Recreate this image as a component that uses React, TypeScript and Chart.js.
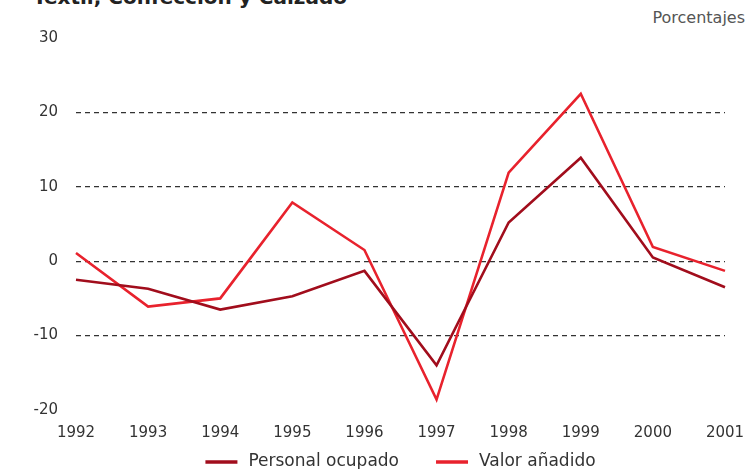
import React, { useEffect, useRef } from "react";
import { Chart, registerables } from "chart.js";

Chart.register(...registerables);

const years = ["1992", "1993", "1994", "1995", "1996", "1997", "1998", "1999", "2000", "2001"];
const personalOcupado = [-2.5, -3.7, -6.5, -4.7, -1.3, -14.0, 5.2, 13.9, 0.5, -3.5];
const valorAnadido = [1.1, -6.1, -5.0, 7.9, 1.5, -18.6, 11.9, 22.5, 1.9, -1.3];
const seriesNames = ["Personal ocupado", "Valor añadido"];
const seriesColors = ["#a10d1c", "#e8222d"];
const titleText = "Textil, Confección y Calzado";
const unitText = "Porcentajes";

const FONT = "'DejaVu Sans', 'Liberation Sans', Arial, sans-serif";

const bottomLegend = {
  id: "bottomLegend",
  afterDraw(chart: any) {
    const ctx = chart.ctx;
    const area = chart.chartArea;
    const sample = 32;
    const gapText = 11;
    const gapItem = 37;
    const y = 462;
    ctx.save();
    ctx.font = `17px ${FONT}`;
    ctx.textBaseline = "middle";
    ctx.textAlign = "left";
    const items = chart.data.datasets.map((d: any) => ({
      label: d.label as string,
      color: d.borderColor as string,
      w: ctx.measureText(d.label).width,
    }));
    let total = 0;
    items.forEach((it: any, i: number) => {
      total += sample + gapText + it.w + (i > 0 ? gapItem : 0);
    });
    let x = (area.left + area.right) / 2 - total / 2;
    items.forEach((it: any) => {
      ctx.strokeStyle = it.color;
      ctx.lineWidth = 3.5;
      ctx.beginPath();
      ctx.moveTo(x, y);
      ctx.lineTo(x + sample, y);
      ctx.stroke();
      ctx.fillStyle = "#333";
      ctx.fillText(it.label, x + sample + gapText, y);
      x += sample + gapText + it.w + gapItem;
    });
    ctx.restore();
  },
};

export default function App() {
  const ref = useRef<HTMLCanvasElement | null>(null);

  useEffect(() => {
    document.body.style.margin = "0";
    const canvas = ref.current;
    if (!canvas) return;
    const chart = new Chart(canvas, {
      type: "line",
      data: {
        labels: years,
        datasets: [
          {
            label: seriesNames[0],
            data: personalOcupado,
            borderColor: seriesColors[0],
            backgroundColor: seriesColors[0],
            borderWidth: 2.6,
            pointRadius: 0,
            tension: 0,
          },
          {
            label: seriesNames[1],
            data: valorAnadido,
            borderColor: seriesColors[1],
            backgroundColor: seriesColors[1],
            borderWidth: 2.6,
            pointRadius: 0,
            tension: 0,
          },
        ],
      },
      options: {
        animation: false,
        responsive: false,
        maintainAspectRatio: false,
        layout: { padding: { left: 0, right: 27, top: 38, bottom: 27 } },
        plugins: {
          tooltip: { enabled: false },
          title: { display: false },
          legend: { display: false },
        },
        scales: {
          x: {
            type: "category",
            offset: false,
            grid: { display: false, drawTicks: false },
            border: { display: false },
            ticks: {
              color: "#333",
              padding: 14,
              maxRotation: 0,
              autoSkip: false,
              font: { family: FONT, size: 15 },
            },
            afterFit: (scale: any) => {
              scale.height = 32;
              scale.paddingLeft = 0;
              scale.paddingRight = 0;
            },
          },
          y: {
            min: -20,
            max: 30,
            border: { display: false, dash: [5, 4] },
            grid: {
              drawTicks: false,
              lineWidth: 1.2,
              color: (ctx: any) =>
                ctx.tick && (ctx.tick.value === 30 || ctx.tick.value === -20)
                  ? "rgba(0,0,0,0)"
                  : "#333",
            },
            ticks: {
              stepSize: 10,
              color: "#333",
              padding: 18,
              font: { family: FONT, size: 15 },
            },
            afterFit: (scale: any) => {
              scale.width = 76;
              scale.paddingTop = 0;
              scale.paddingBottom = 0;
            },
          },
        },
      },
      plugins: [bottomLegend],
    });
    return () => chart.destroy();
  }, []);

  return (
    <div
      style={{
        position: "fixed",
        left: 0,
        top: 0,
        width: 752,
        height: 469,
        overflow: "hidden",
        background: "#fff",
      }}
    >
      <div
        style={{
          position: "absolute",
          left: 33,
          top: -13,
          fontFamily: FONT,
          fontWeight: "bold",
          fontSize: 20,
          lineHeight: "20px",
          color: "#222",
          whiteSpace: "nowrap",
        }}
      >
        {titleText}
      </div>
      <div
        style={{
          position: "absolute",
          right: 7,
          top: 9,
          fontFamily: FONT,
          fontSize: 16,
          lineHeight: "18px",
          color: "#555",
          whiteSpace: "nowrap",
        }}
      >
        {unitText}
      </div>
      <canvas
        ref={ref}
        width={752}
        height={469}
        style={{ position: "absolute", left: 0, top: 0, width: 752, height: 469 }}
      />
    </div>
  );
}
